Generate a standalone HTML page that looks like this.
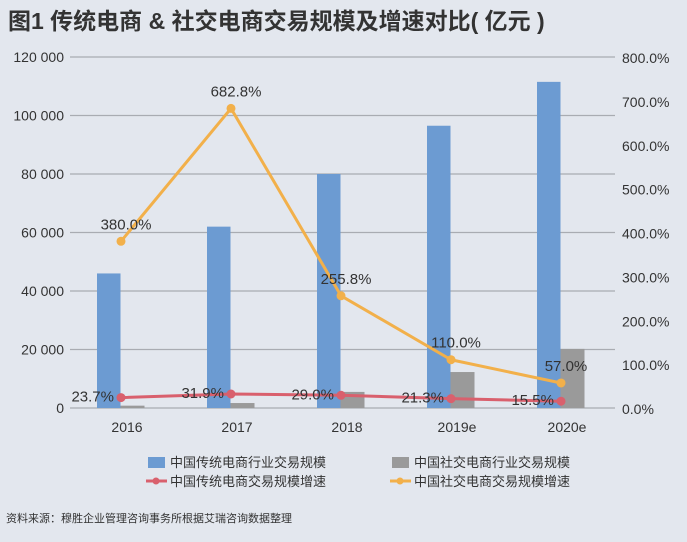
<!DOCTYPE html>
<html><head><meta charset="utf-8"><style>
body{margin:0;background:#e3e7ee;}
svg{display:block;font-family:"Liberation Sans","Noto Sans CJK SC",sans-serif;}
</style></head><body>
<svg width="687" height="542" viewBox="0 0 687 542">
<rect width="687" height="542" fill="#e3e7ee"/>
<text x="8" y="29" font-size="23" font-weight="bold" fill="#333">图1  传统电商 &amp; 社交电商交易规模及增速对比( 亿元 )</text>
<g id="grid"></g><g id="bars"></g><g id="lines"></g><g id="labels"></g>
<g font-size="13" fill="#333">
<rect x="148" y="457" width="17" height="11" fill="#6c9bd2"/>
<text x="170" y="467">中国传统电商行业交易规模</text>
<rect x="392" y="457" width="17" height="11" fill="#9a9a9a"/>
<text x="414" y="467">中国社交电商行业交易规模</text>
<line x1="146" y1="481" x2="167" y2="481" stroke="#d9606d" stroke-width="3"/>
<circle cx="156" cy="481" r="3.5" fill="#d9606d"/>
<text x="170" y="486">中国传统电商交易规模增速</text>
<line x1="390" y1="481" x2="411" y2="481" stroke="#f2b04a" stroke-width="3"/>
<circle cx="400" cy="481" r="3.5" fill="#f2b04a"/>
<text x="414" y="486">中国社交电商交易规模增速</text>
</g>
<text x="6" y="522" font-size="11" fill="#333">资料来源：穆胜企业管理咨询事务所根据艾瑞咨询数据整理</text>
</svg>
<script>
const categories=["2016","2017","2018","2019e","2020e"];
const traditionalScale=[46000,62000,80000,96500,111500];
const socialScale=[800,1700,5500,12300,20200];
const traditionalGrowth=[23.7,31.9,29.0,21.3,15.5];
const socialGrowth=[380.0,682.8,255.8,110.0,57.0];
const leftTicks=[0,20000,40000,60000,80000,100000,120000];
const leftTickLabels=["0","20 000","40 000","60 000","80 000","100 000","120 000"];
const rightTicks=[0,100,200,300,400,500,600,700,800];

const NS="http://www.w3.org/2000/svg";
const plotTop=57,plotBottom=408,x0=66,band=110;
const yL=v=>plotBottom-(v/120000)*(plotBottom-plotTop);
const yR=v=>plotBottom-(v/800)*(plotBottom-plotTop);
const xC=i=>x0+band*(i+0.5);
function mk(tag,attrs,parent,text){const e=document.createElementNS(NS,tag);for(const k in attrs)e.setAttribute(k,attrs[k]);if(text!==undefined)e.textContent=text;document.getElementById(parent).appendChild(e);return e;}
leftTicks.forEach((t,i)=>{
  const g=mk("line",{x1:70,x2:615,y1:yL(t),y2:yL(t),stroke:"#a9acb2","stroke-width":1.2},"grid");
  
  
  const l=mk("text",{x:64,y:yL(t)+5,"font-size":14,fill:"#333","text-anchor":"end"},"grid",leftTickLabels[i]);
  
  
});
rightTicks.forEach(t=>{
  const l=mk("text",{x:622,y:yR(t)+6,"font-size":14,fill:"#333"},"grid",t.toFixed(1)+"%");
  
  
});
categories.forEach((c,i)=>{
  const l=mk("text",{x:xC(i)+6,y:432,"font-size":14,fill:"#333","text-anchor":"middle"},"grid",c);
  
  
  const b=mk("rect",{x:xC(i)-24,y:yL(traditionalScale[i]),width:23.5,height:plotBottom-yL(traditionalScale[i]),fill:"#6c9bd2"},"bars");
  
  
  const g=mk("rect",{x:xC(i)-0.5,y:yL(socialScale[i]),width:24,height:plotBottom-yL(socialScale[i]),fill:"#9a9a9a"},"bars");
  
  
});
function line(vals,color,name){
  const pts=vals.map((v,i)=>xC(i)+","+yR(v)).join(" ");
  const p=mk("polyline",{points:pts,fill:"none",stroke:color,"stroke-width":3,"stroke-linejoin":"round"},"lines");
  
  
  vals.forEach((v,i)=>{
    const c=mk("circle",{cx:xC(i),cy:yR(v),r:4.5,fill:color},"lines");
    
    
  });
}
line(socialGrowth,"#f2b04a","social-growth");
line(traditionalGrowth,"#d9606d","traditional-growth");
traditionalGrowth.forEach((v,i)=>{
  const t=mk("text",{x:xC(i)-7,y:yR(v)+4,"font-size":15,fill:"#333","text-anchor":"end"},"labels",v.toFixed(1)+"%");
  
  
});
socialGrowth.forEach((v,i)=>{
  const t=mk("text",{x:xC(i)+5,y:yR(v)-12,"font-size":15,fill:"#333","text-anchor":"middle"},"labels",v.toFixed(1)+"%");
  
  
});
</script>
</body></html>
